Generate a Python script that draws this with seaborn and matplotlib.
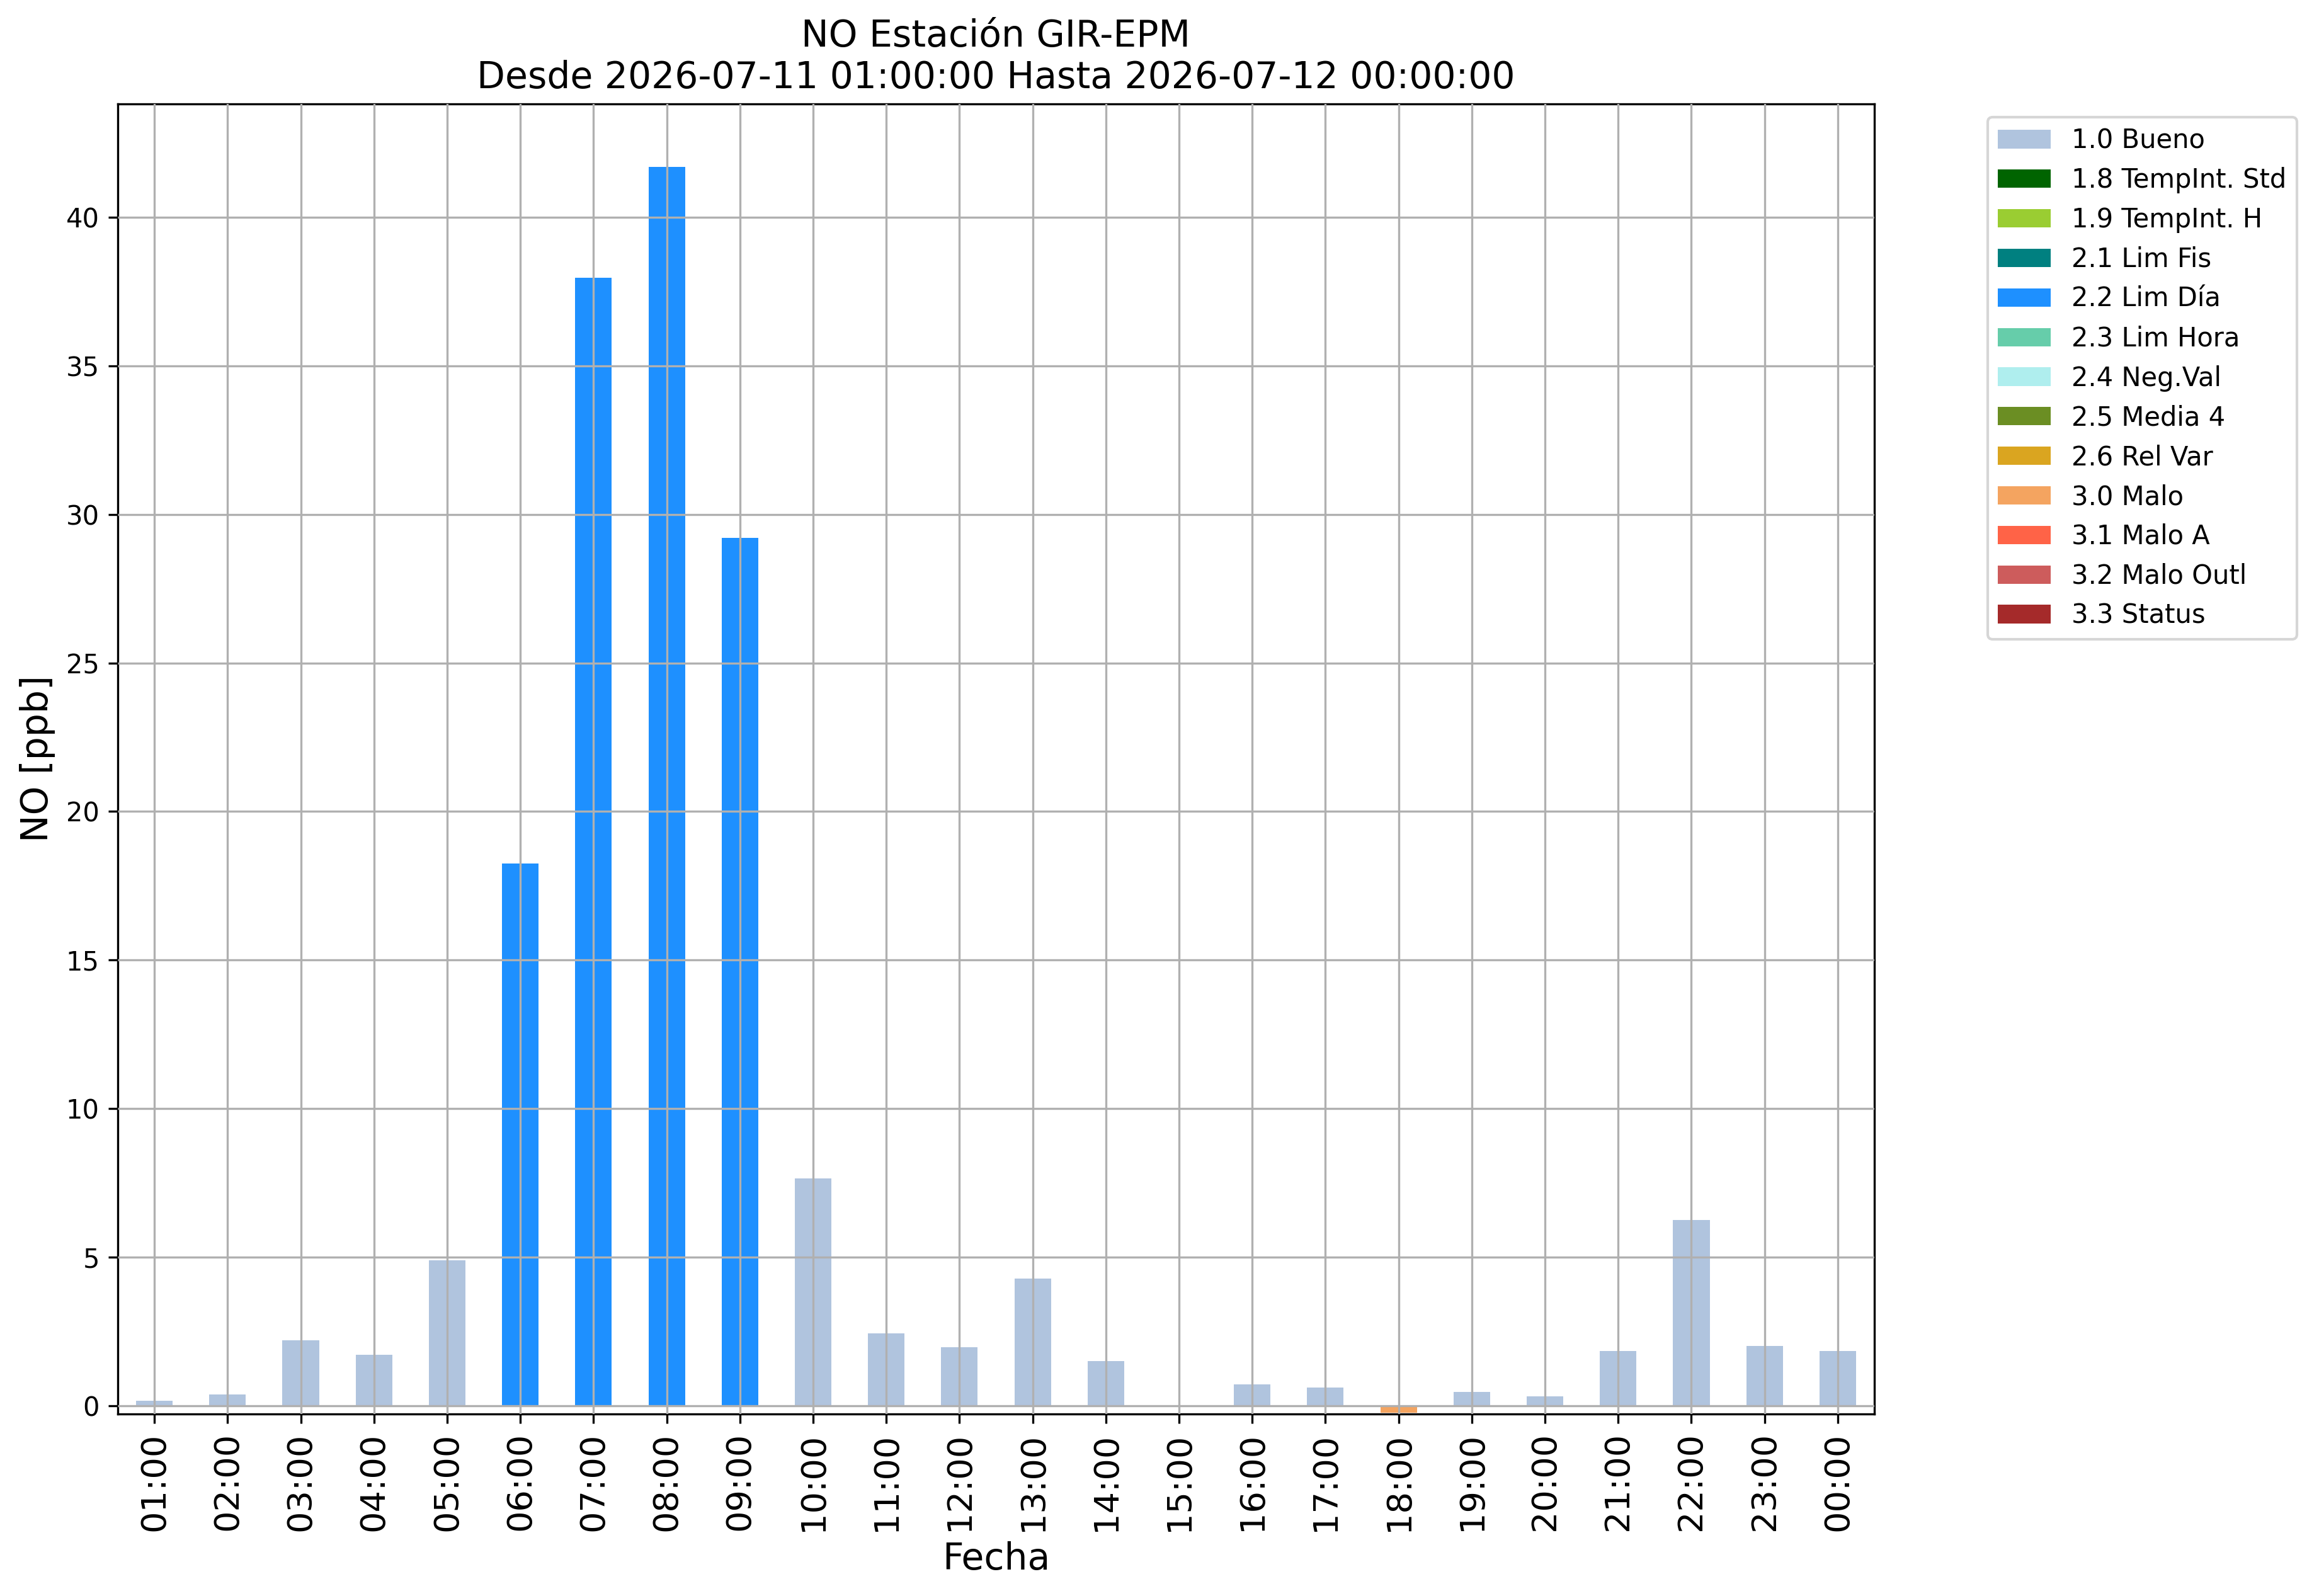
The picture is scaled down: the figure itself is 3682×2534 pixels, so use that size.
import numpy as np
import pandas as pd
import matplotlib
matplotlib.use("Agg")
import matplotlib.pyplot as plt
from matplotlib.patches import Patch
import seaborn as sns

# ---- data ----
hours = ["01:00", "02:00", "03:00", "04:00", "05:00", "06:00", "07:00", "08:00",
         "09:00", "10:00", "11:00", "12:00", "13:00", "14:00", "15:00", "16:00",
         "17:00", "18:00", "19:00", "20:00", "21:00", "22:00", "23:00", "00:00"]
values = [0.17, 0.38, 2.21, 1.72, 4.90, 18.24, 37.97, 41.70,
          29.21, 7.66, 2.44, 1.97, 4.27, 1.51, np.nan, 0.72,
          0.62, -0.24, 0.47, 0.32, 1.85, 6.25, 2.02, 1.85]
flags = ["1.0 Bueno", "1.0 Bueno", "1.0 Bueno", "1.0 Bueno", "1.0 Bueno",
         "2.2 Lim Día", "2.2 Lim Día", "2.2 Lim Día", "2.2 Lim Día",
         "1.0 Bueno", "1.0 Bueno", "1.0 Bueno", "1.0 Bueno", "1.0 Bueno",
         "1.0 Bueno", "1.0 Bueno", "1.0 Bueno", "3.0 Malo", "1.0 Bueno",
         "1.0 Bueno", "1.0 Bueno", "1.0 Bueno", "1.0 Bueno", "1.0 Bueno"]
flag_labels = ["1.0 Bueno", "1.8 TempInt. Std", "1.9 TempInt. H", "2.1 Lim Fis",
               "2.2 Lim Día", "2.3 Lim Hora", "2.4 Neg.Val", "2.5 Media 4",
               "2.6 Rel Var", "3.0 Malo", "3.1 Malo A", "3.2 Malo Outl", "3.3 Status"]
flag_colors = ["lightsteelblue", "darkgreen", "yellowgreen", "teal",
               "dodgerblue", "mediumaquamarine", "paleturquoise", "olivedrab",
               "goldenrod", "sandybrown", "tomato", "indianred", "brown"]

df = pd.DataFrame({"Fecha": hours, "NO": values, "flag": flags})
palette = dict(zip(flag_labels, flag_colors))

plt.rcParams["font.family"] = ["DejaVu Sans"]
fig = plt.figure(figsize=(3682 / 300, 2534 / 300), dpi=300)
ax = fig.add_axes([187 / 3682, 1 - 2245 / 2534, (2976 - 187) / 3682, (2245 - 165) / 2534])

sns.barplot(data=df, x="Fecha", y="NO", hue="flag", order=hours,
            hue_order=flag_labels, palette=palette, dodge=False,
            width=0.5, errorbar=None, saturation=1, legend=False, ax=ax)

ax.set_xlim(-0.5, len(hours) - 0.5)
ax.set_ylim(-0.28, 43.82)
ax.set_axisbelow(False)
ax.grid(True, color="#b0b0b0", linewidth=0.8)
for s in ax.spines.values():
    s.set_color("black")
    s.set_linewidth(0.8)
ax.tick_params(axis="x", labelsize=13, rotation=90, direction="out")
ax.tick_params(axis="y", labelsize=10, direction="out")
ax.set_xlabel("Fecha", fontsize=14)
ax.set_ylabel("NO [ppb]", fontsize=14)
ax.set_title("NO Estación GIR-EPM\nDesde 2026-07-11 01:00:00 Hasta 2026-07-12 00:00:00",
             fontsize=14)

handles = [Patch(facecolor=c, edgecolor="none", label=l) for l, c in zip(flag_labels, flag_colors)]
ax.legend(handles=handles, loc="upper left", bbox_to_anchor=(1.057, 1.0),
          fontsize=10, frameon=True)

fig.savefig("out.png", dpi=300)
